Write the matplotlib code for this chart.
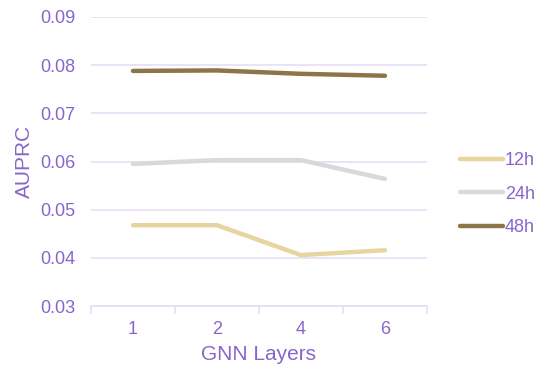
import matplotlib
matplotlib.use("Agg")
import matplotlib.pyplot as plt
import numpy as np

plt.rcParams['font.family'] = ['Liberation Sans', 'DejaVu Sans']

layers = ['1', '2', '4', '6']
auprc_12h = [0.0468, 0.0468, 0.0406, 0.0416]
auprc_24h = [0.0595, 0.0603, 0.0603, 0.0564]
auprc_48h = [0.0788, 0.0789, 0.0782, 0.0778]
series_names = ['12h', '24h', '48h']

colors = ['#E8D49E', '#D9D9D9', '#8C7649']
txt = '#8666CC'
grid = '#E4DEF5'

fig = plt.figure(figsize=(5.35, 3.68), dpi=100)
ax = fig.add_axes([0.170, 0.168, 0.628, 0.786])

x = np.arange(len(layers))
for vals, name, c in zip([auprc_12h, auprc_24h, auprc_48h], series_names, colors):
    ax.plot(x, vals, color=c, lw=3.2, solid_capstyle='round', label=name)

ax.set_xlim(-0.5, len(layers) - 0.5)
ax.set_ylim(0.03, 0.09)
ax.set_yticks(np.arange(0.03, 0.0901, 0.01))
ax.set_yticklabels([f'{v:.2f}' for v in np.arange(0.03, 0.0901, 0.01)])
ax.set_xticks(x)
ax.set_xticklabels(layers)
ax.set_xticks(np.arange(-0.5, len(layers)), minor=True)
ax.tick_params(axis='x', which='major', length=0, pad=11, labelsize=13, labelcolor=txt)
ax.tick_params(axis='x', which='minor', length=6, color=grid, width=1.2)
ax.tick_params(axis='y', length=0, pad=11, labelsize=13, labelcolor=txt)
ax.grid(axis='y', color=grid, lw=1.2)
ax.set_axisbelow(True)
for s in ['top', 'right', 'left']:
    ax.spines[s].set_visible(False)
ax.spines['bottom'].set_color(grid)
ax.spines['bottom'].set_linewidth(1.2)

ax.set_xlabel('GNN Layers', color=txt, fontsize=15, labelpad=5)
ax.set_ylabel('AUPRC', color=txt, fontsize=15, labelpad=5)

ax.legend(loc='center left', bbox_to_anchor=(1.05, 0.387), frameon=False,
          fontsize=13, labelcolor=txt, handlelength=2.4, handletextpad=0.1,
          labelspacing=0.9)

fig.savefig('out.png', dpi=100)
